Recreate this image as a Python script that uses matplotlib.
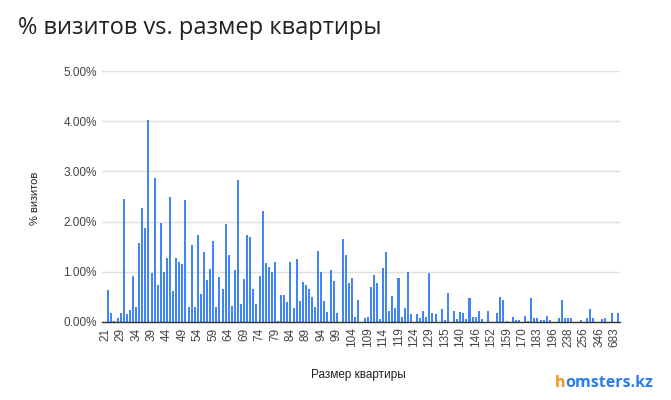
import numpy as np
import matplotlib
matplotlib.use("Agg")
import matplotlib.pyplot as plt
from matplotlib.ticker import FuncFormatter, MultipleLocator


# Google Sheets-like palette
C_BAR = "#4285f4"
C_GRID = "#e0e0e0"
C_AXIS = "#333333"
C_TICK = "#444444"
C_INK = "#212121"
C_LOGO_H = "#f7941d"
C_LOGO = "#2b7de9"

# % визитов по размеру квартиры (в порядке категорий, подпись каждой 5-й)
visits = [
    0.63, 0.17, 0.02, 0.07, 0.17, 2.46, 0.15, 0.23, 0.92, 0.29,
    1.58, 2.27, 1.88, 4.02, 0.98, 2.87, 0.73, 1.98, 0.99, 1.27,
    2.50, 0.62, 1.27, 1.19, 1.15, 2.44, 0.29, 1.54, 0.29, 1.73,
    0.55, 1.40, 0.83, 1.06, 1.62, 0.29, 0.90, 0.65, 1.96, 1.34,
    0.32, 1.03, 2.83, 0.36, 0.85, 1.73, 1.69, 0.65, 0.36, 0.92,
    2.21, 1.17, 1.09, 1.00, 1.19, 0.01, 0.54, 0.54, 0.40, 1.19,
    0.27, 1.25, 0.42, 0.79, 0.73, 0.65, 0.50, 0.29, 1.42, 0.99,
    0.42, 0.19, 1.03, 0.82, 0.17, 0.00, 1.65, 1.34, 0.77, 0.88,
    0.09, 0.44, 0.00, 0.08, 0.09, 0.70, 0.93, 0.78, 0.06, 1.07,
    1.39, 0.21, 0.52, 0.28, 0.87, 0.10, 0.28, 0.99, 0.16, 0.00,
    0.16, 0.08, 0.22, 0.09, 0.97, 0.18, 0.16, 0.00, 0.25, 0.04,
    0.58, 0.00, 0.21, 0.06, 0.19, 0.17, 0.05, 0.47, 0.10, 0.10,
    0.22, 0.05, 0.00, 0.21, 0.00, 0.00, 0.17, 0.50, 0.44, 0.02,
    0.00, 0.10, 0.03, 0.03, 0.00, 0.11, 0.01, 0.47, 0.08, 0.08,
    0.03, 0.03, 0.12, 0.03, 0.00, 0.00, 0.08, 0.44, 0.08, 0.08,
    0.07, 0.00, 0.00, 0.03, 0.00, 0.07, 0.25, 0.07, 0.00, 0.00,
    0.05, 0.08, 0.00, 0.17, 0.00, 0.17,
]
tick_labels = [
    "21", "29", "34", "39", "44", "49", "54", "59", "64", "69",
    "74", "79", "84", "89", "94", "99", "104", "109", "114", "119",
    "124", "129", "135", "140", "146", "152", "159", "170", "183", "196",
    "238", "256", "346", "683",
]
label_step = 5

W, H = 671, 400
fig = plt.figure(figsize=(W / 100, H / 100), dpi=100)
fig.patch.set_facecolor("white")

# область графика в пикселях исходной картинки
left, right, top, bottom = 101.7, 620, 71, 322
ax = fig.add_axes([left / W, 1 - bottom / H, (right - left) / W, (bottom - top) / H])

x = np.arange(len(visits))
ax.bar(x, visits, width=0.65, color=C_BAR, zorder=3, linewidth=0)

ax.set_xlim(-2.14, len(visits) - 0.25)
ax.set_ylim(0, 5)

# y: проценты
ax.yaxis.set_major_locator(MultipleLocator(1))
ax.yaxis.set_major_formatter(FuncFormatter(lambda v, _p: f"{v:.2f}%"))
ax.tick_params(axis="y", length=0, pad=3.4, labelsize=8.5, labelcolor=C_TICK)
for lbl in ax.get_yticklabels():
    lbl.set_family(["Liberation Sans", "DejaVu Sans"])

# x: подпись каждой 5-й категории, текст повернут, базовая линия у деления
ax.set_xticks(x[::label_step][:len(tick_labels)])
ax.set_xticklabels(tick_labels, rotation=90, rotation_mode="anchor",
                   ha="right", va="baseline", fontsize=8.5, color=C_TICK,
                   family=["Liberation Sans", "DejaVu Sans"])
ax.tick_params(axis="x", length=0, pad=4)

ax.grid(True, axis="y", color=C_GRID, linewidth=1.0, zorder=0)
ax.set_axisbelow(True)
for side in ("top", "right", "left"):
    ax.spines[side].set_visible(False)
ax.spines["bottom"].set_color(C_AXIS)
ax.spines["bottom"].set_linewidth(1.0)
ax.spines["bottom"].set_zorder(4)

# подписи осей
fig.text(35 / W, 1 - 198 / H, "% визитов", rotation=90, ha="center", va="center",
         fontsize=8, color=C_INK, family=["Liberation Sans", "DejaVu Sans"])
fig.text(358 / W, 1 - 375 / H, "Размер квартиры", ha="center", va="center",
         fontsize=8.5, color=C_INK, family=["Liberation Sans", "DejaVu Sans"])

# заголовок
fig.text(18 / W, 1 - 28 / H, "% визитов vs. размер квартиры", ha="left", va="center",
         fontsize=17, color=C_INK, family=["Open Sans", "DejaVu Sans"])

# логотип homsters.kz
t_h = fig.text(555 / W, 1 - 383 / H, "h", ha="left", va="center", fontsize=11.5,
               fontweight="bold", color=C_LOGO_H, family=["Open Sans", "DejaVu Sans"])
ax.annotate("omsters.kz", xy=(1, 0), xycoords=t_h, ha="left", va="bottom",
            fontsize=11.5, fontweight="bold", color=C_LOGO,
            family=["Open Sans", "DejaVu Sans"], annotation_clip=False)

fig.savefig("out.png", dpi=100, facecolor="white")
plt.close(fig)
